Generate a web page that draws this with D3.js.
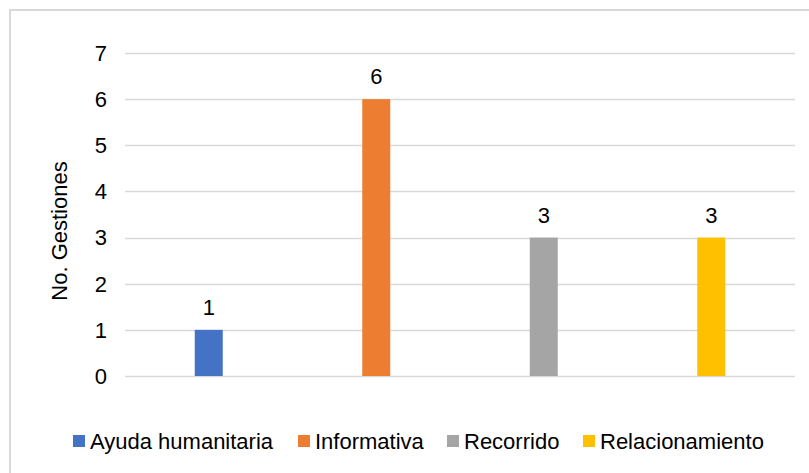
<!DOCTYPE html>
<html>
<head>
<meta charset="utf-8">
<script src="https://cdn.jsdelivr.net/npm/d3@7"></script>
<style>
  body { margin: 0; background: #fff; }
  svg text { font-family: "Liberation Sans", Arial, sans-serif; fill: #000; }
</style>
</head>
<body>
<svg width="809" height="473"></svg>
<script>
  const categories = ['Ayuda humanitaria', 'Informativa', 'Recorrido', 'Relacionamiento'];
  const values = [1, 6, 3, 3];
  const colors = ['#4472c4', '#ed7d31', '#a5a5a5', '#ffc000'];
  const yTicks = [0, 1, 2, 3, 4, 5, 6, 7];

  const svg = d3.select('svg');
  const margin = {left: 125, right: 14, top: 53, bottom: 97};
  const W = 809, H = 473;

  // chart frame
  svg.append('rect')
    .attr('x', 10).attr('y', 10)
    .attr('width', 820).attr('height', 500)
    .attr('fill', 'none')
    .attr('stroke', '#d9d9d9')
    .attr('stroke-width', 2);

  const x = d3.scaleBand()
    .domain(categories)
    .range([margin.left, W - margin.right]);

  const y = d3.scaleLinear()
    .domain([0, 7])
    .range([H - margin.bottom, margin.top]);

  // gridlines
  svg.append('g')
    .selectAll('line')
    .data(yTicks)
    .enter()
    .append('line')
      .attr('x1', margin.left)
      .attr('x2', W - margin.right)
      .attr('y1', d => Math.round(y(d)) + 0.5)
      .attr('y2', d => Math.round(y(d)) + 0.5)
      .attr('stroke', '#d9d9d9')
      .attr('stroke-width', 1.5);

  // y tick labels
  svg.append('g')
    .selectAll('text')
    .data(yTicks)
    .enter()
    .append('text')
      .attr('x', 107)
      .attr('y', d => y(d))
      .attr('dy', '0.36em')
      .attr('text-anchor', 'end')
      .style('font-size', '22px')
      .text(d => d);

  const barW = 28;
  svg.append('g')
    .selectAll('rect')
    .data(values)
    .enter()
    .append('rect')
      .attr('x', (d, i) => x(categories[i]) + x.bandwidth() / 2 - barW / 2)
      .attr('y', d => y(d))
      .attr('width', barW)
      .attr('height', d => y(0) - y(d))
      .attr('fill', (d, i) => colors[i]);

  // value labels
  svg.append('g')
    .selectAll('text')
    .data(values)
    .enter()
    .append('text')
      .attr('x', (d, i) => x(categories[i]) + x.bandwidth() / 2)
      .attr('y', d => y(d) - 15)
      .attr('text-anchor', 'middle')
      .style('font-size', '22px')
      .text(d => d);

  // axis title
  svg.append('text')
    .attr('transform', 'translate(67, 231) rotate(-90)')
    .attr('text-anchor', 'middle')
    .style('font-size', '22px')
    .text('No. Gestiones');

  // legend
  const legendX = [73, 298, 447, 583];
  const lg = svg.append('g')
    .selectAll('g')
    .data(categories)
    .enter()
    .append('g')
      .attr('transform', (d, i) => `translate(${legendX[i]}, 441)`);
  lg.append('rect')
    .attr('x', 0).attr('y', -6)
    .attr('width', 12).attr('height', 12)
    .attr('fill', (d, i) => colors[i]);
  lg.append('text')
    .attr('x', 17)
    .attr('y', 0)
    .attr('dy', '0.36em')
    .style('font-size', '22px')
    .text(d => d);
</script>
</body>
</html>
